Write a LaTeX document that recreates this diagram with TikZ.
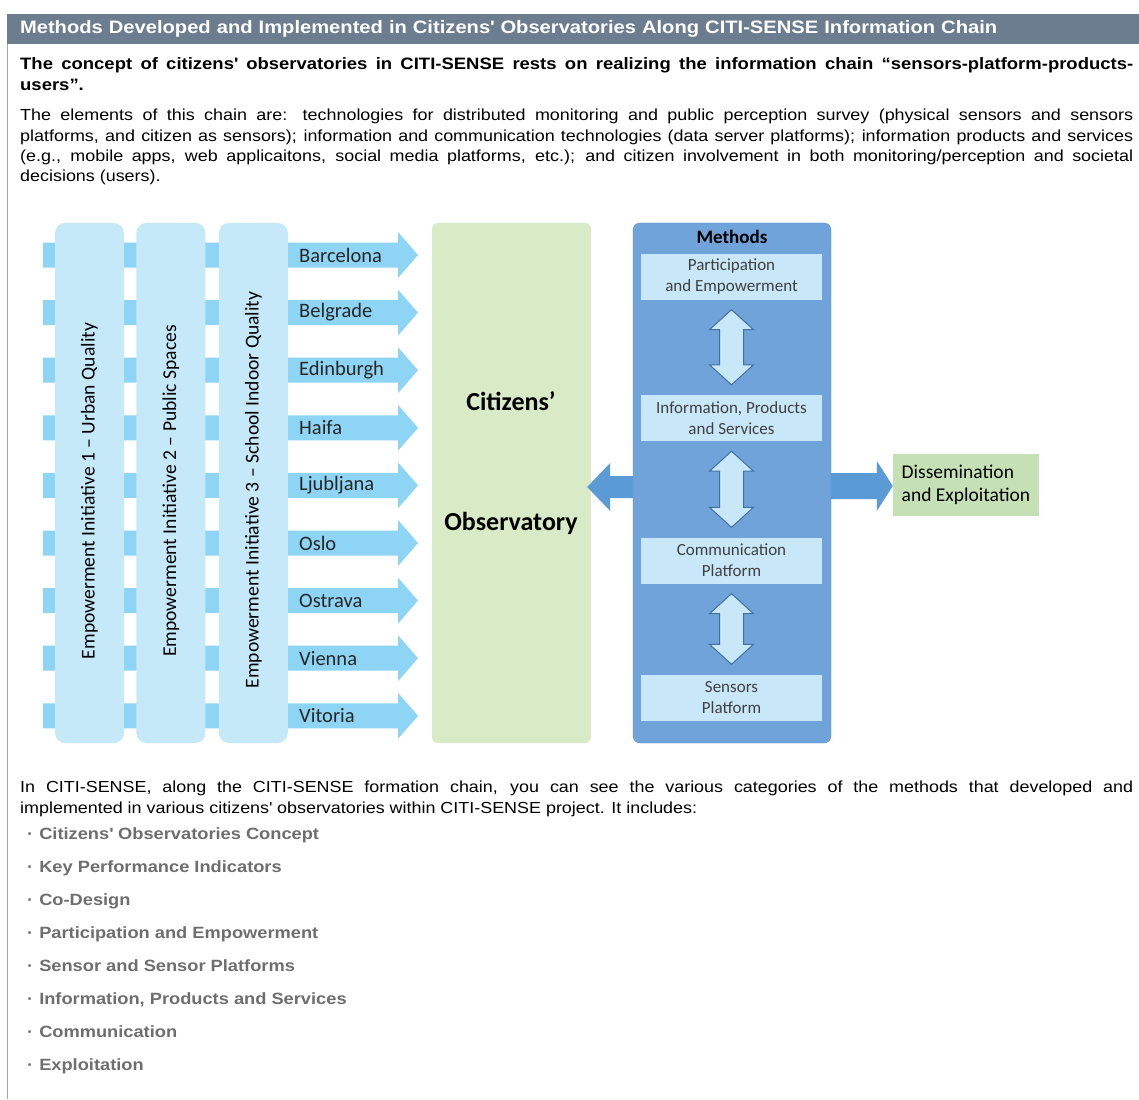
\documentclass[tikz,border=0pt]{standalone}
\usepackage{fontspec}
\setmainfont{Liberation Sans}[FakeStretch=1.12]
\newfontfamily\calibri{Carlito}
\usepackage{tikz}
\usetikzlibrary{positioning, calc}

\definecolor{headgray}{HTML}{6C7D8F}
\definecolor{framegray}{HTML}{A6A6A6}
\definecolor{stripeblue}{HTML}{8DD4F5}
\definecolor{colblue}{HTML}{C6E9FA}
\definecolor{obsgreen}{HTML}{D9EAC6}
\definecolor{methblue}{HTML}{70A3DA}
\definecolor{methline}{HTML}{5E92CF}
\definecolor{innerblue}{HTML}{C8E8FA}
\definecolor{biline}{HTML}{41719C}
\definecolor{outblue}{HTML}{5B9BD5}
\definecolor{dissgreen}{HTML}{C5E0B4}
\definecolor{listgray}{HTML}{6E6E6E}

\newcommand{\setfs}[2]{\fontsize{#1}{#2}\selectfont}
% two-headed block arrow between two stacked nodes
\newcommand{\vbiarrow}[2]{%
  \draw[biarrow] let \p1=($(#1.south)+(0pt,-10pt)$), \p2=($(#2.north)+(0pt,10pt)$) in
    (\x1,\y1) -- (\x1+22pt,\y1-20pt) -- (\x1+12pt,\y1-20pt) -- (\x1+12pt,\y2+20pt)
    -- (\x1+22pt,\y2+20pt) -- (\x1,\y2) -- (\x1-22pt,\y2+20pt) -- (\x1-12pt,\y2+20pt)
    -- (\x1-12pt,\y1-20pt) -- (\x1-22pt,\y1-20pt) -- cycle;}

\begin{document}
\begin{tikzpicture}[x=1pt, y=-1pt]
\tikzstyle{headerbar} = [rectangle, fill=headgray, text=white, minimum width=1132pt, minimum height=30pt, inner xsep=13pt, inner ysep=0pt, text width=1106pt, align=left, font=\bfseries\setfs{18}{22}]
\tikzstyle{para} = [anchor=north west, inner sep=0pt, text width=1113pt, align=justify, font=\setfs{16}{20.4}]
\tikzstyle{column} = [rectangle, rounded corners=10pt, fill=colblue, minimum width=69pt, minimum height=520pt]
\tikzstyle{collabel} = [rotate=90, font=\calibri\setfs{19.6}{22}]
\tikzstyle{citytext} = [anchor=west, inner sep=0pt, font=\calibri\setfs{20.5}{22}, text=black!85]
\tikzstyle{observatory} = [rectangle, rounded corners=6pt, fill=obsgreen, minimum width=159pt, minimum height=520pt]
\tikzstyle{obstext} = [font=\calibri\bfseries\setfs{26}{28}]
\tikzstyle{methodsbox} = [rectangle, rounded corners=7pt, fill=methblue, draw=methline, minimum width=198pt, minimum height=520pt]
\tikzstyle{method} = [rectangle, fill=innerblue, minimum width=181pt, minimum height=46pt, inner sep=0pt, align=center, font=\calibri\setfs{17}{21}, text=black!75]
\tikzstyle{diss} = [rectangle, fill=dissgreen, minimum width=146pt, minimum height=62pt, inner xsep=7pt, align=left, font=\calibri\setfs{19.5}{23}]
\tikzstyle{biarrow} = [fill=innerblue, draw=biline, line width=1pt, line join=miter]
\tikzstyle{blockarrow} = [fill=outblue]
\tikzstyle{listitem} = [anchor=base west, inner sep=0pt, font=\bfseries\setfs{16.3}{18}, text=listgray]

\useasboundingbox (0,0) rectangle (1139,1099);
\fill[white] (0,0) rectangle (1139,1099);

% Frame and header
\draw[framegray, line width=1.2pt] (7.5,14) -- (7.5,1099);
\node (header) [headerbar] at (573,29) {Methods Developed and Implemented in Citizens\textquotesingle{} Observatories Along CITI-SENSE Information Chain};

% Text above the diagram
\node (concept) [para, font=\bfseries\setfs{16.5}{21}] at (20,57) {The concept of citizens\textquotesingle{} observatories in CITI-SENSE rests on realizing the information chain “sensors-platform-products-\linebreak users”.};
\node (elements) [para] at (20,109) {The elements of this chain are: technologies for distributed monitoring and public perception survey (physical sensors and sensors\linebreak platforms, and citizen as sensors); information and communication technologies (data server platforms); information products and services\linebreak (e.g., mobile apps, web applicaitons, social media platforms, etc.); and citizen involvement in both monitoring/perception and societal\linebreak decisions (users).};

% City arrows (behind the columns)
\foreach \city [count=\i from 0] in {Barcelona, Belgrade, Edinburgh, Haifa, Ljubljana, Oslo, Ostrava, Vienna, Vitoria} {
  \pgfmathsetmacro{\yy}{255+57.6*\i}
  \fill[stripeblue] (43,\yy-12.5) -- (398,\yy-12.5) -- (398,\yy-23) -- (418,\yy) -- (398,\yy+23) -- (398,\yy+12.5) -- (43,\yy+12.5) -- cycle;
  \node (city\i) [citytext] at (299,\yy) {\city};
}

% Empowerment initiatives
\node (col1) [column] at (89.5,483) {};
\node (col2) [column, right=12pt of col1] {};
\node (col3) [column, right=13pt of col2] {};
\node (lab1) [collabel] at ([yshift=-8pt]col1.center) {Empowerment Initiative 1 – Urban Quality};
\node (lab2) [collabel] at ([yshift=-8pt]col2.center) {Empowerment Initiative 2 – Public Spaces};
\node (lab3) [collabel] at ([yshift=-7pt]col3.center) {Empowerment Initiative 3 – School Indoor Quality};

% Citizens' observatory
\node (obs) [observatory] at (511.5,483) {};
\node (obstop) [obstext] at (511,401) {Citizens’};
\node (obsbot) [obstext] at (511,523) {Observatory};

% Methods
\node (methods) [methodsbox] at (732,483) {};
\node (mtitle) [font=\calibri\bfseries\setfs{19}{20}] at (732,237) {Methods};
\node (part) [method] at (731.5,276.5) {Participation\\and Empowerment};
\node (info) [method] at (731.5,418) {Information, Products\\and Services};
\node (comm) [method] at (731.5,560.5) {Communication\\Platform};
\node (sens) [method] at (731.5,697.5) {Sensors\\Platform};
\vbiarrow{part}{info}
\vbiarrow{info}{comm}
\vbiarrow{comm}{sens}

% Block arrows out of the methods box
\fill[blockarrow] let \p1=([yshift=-4pt]methods.west), \p2=(obs.east) in
  (\x1,\y1+11pt) -- (\x2+19pt,\y1+11pt) -- (\x2+19pt,\y1+24pt) -- (\x2-4pt,\y1)
  -- (\x2+19pt,\y1-24pt) -- (\x2+19pt,\y1-11pt) -- (\x1,\y1-11pt) -- cycle;

% Dissemination
\node (diss) [diss] at (966,485) {Dissemination\\and Exploitation};
\fill[blockarrow] let \p1=([yshift=-3pt]methods.east), \p2=(diss.west) in
  (\x1,\y1+13pt) -- (\x2-16pt,\y1+13pt) -- (\x2-16pt,\y1+25pt) -- (\x2,\y1)
  -- (\x2-16pt,\y1-25pt) -- (\x2-16pt,\y1-13pt) -- (\x1,\y1-13pt) -- cycle;

% Text below the diagram
\node (chain) [para] at (20,781) {In CITI-SENSE, along the CITI-SENSE formation chain, you can see the various categories of the methods that developed and\linebreak implemented in various citizens\textquotesingle{} observatories within CITI-SENSE project. It includes:};
\foreach \entry [count=\i from 0] in {Citizens\textquotesingle{} Observatories Concept, Key Performance Indicators, Co-Design, Participation and Empowerment, Sensor and Sensor Platforms, {Information, Products and Services}, Communication, Exploitation} {
  \node (entry\i) [listitem] at (27,839+33*\i) {·\hspace{6pt}\entry};
}
\end{tikzpicture}
\end{document}
